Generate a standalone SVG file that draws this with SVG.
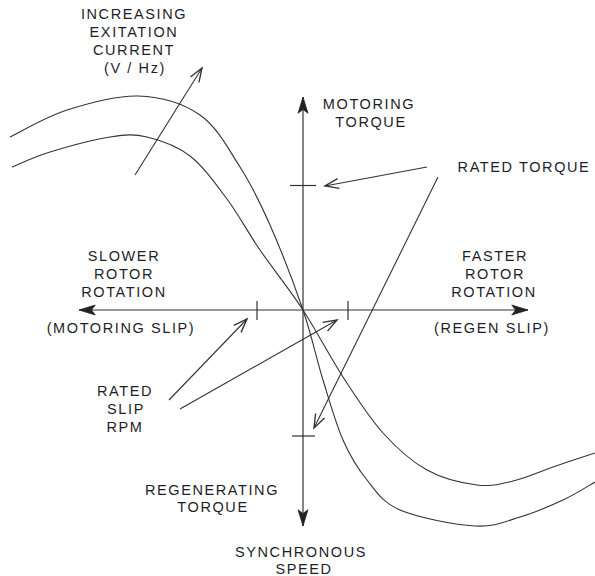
<svg xmlns="http://www.w3.org/2000/svg" width="595" height="576" viewBox="0 0 595 576">
<defs>
<style>
.t{font-family:"Liberation Sans",Arial,sans-serif;font-size:14.5px;letter-spacing:1.6px;fill:#1e1e28;text-anchor:middle}
.ln{fill:none;stroke:#333;stroke-width:1.1}
.ax{fill:none;stroke:#333;stroke-width:1.2}
.an{fill:none;stroke:#333;stroke-width:1.1}
</style>
<marker id="open" markerUnits="userSpaceOnUse" markerWidth="20" markerHeight="20" refX="0" refY="0" viewBox="-14 -7 16 14" orient="auto" overflow="visible">
<path d="M-11,-4 L0,0 L-11,4" fill="none" stroke="#333" stroke-width="1.1"/>
</marker>
<marker id="solid" markerUnits="userSpaceOnUse" markerWidth="20" markerHeight="20" refX="0" refY="0" viewBox="-14 -7 16 14" orient="auto" overflow="visible">
<path d="M0,0 L-13,-4 L-10,0 L-13,4 Z" fill="#222" stroke="#222" stroke-width="0.6"/>
</marker>
</defs>
<rect width="595" height="576" fill="#fff"/>

<g id="connectors">
<line class="ax" x1="303" y1="310" x2="303" y2="97" marker-end="url(#solid)"/>
<line class="ax" x1="303" y1="310" x2="303" y2="526" marker-end="url(#solid)"/>
<line class="ax" x1="303" y1="310" x2="79" y2="310" marker-end="url(#solid)"/>
<line class="ax" x1="303" y1="310" x2="528" y2="310" marker-end="url(#solid)"/>
<line class="ax" x1="257" y1="301" x2="257" y2="320"/>
<line class="ax" x1="348" y1="301" x2="348" y2="320"/>
<line class="ax" x1="290" y1="185.5" x2="316" y2="185.5"/>
<line class="ax" x1="292" y1="436" x2="315" y2="436"/>
<path class="ln" d="M10,137 C19.5,132.5 45.7,116.8 67,110 C88.3,103.2 115.8,95.2 138,96 C160.2,96.8 183,103.2 200,115 C217,126.8 228.3,148.7 240,167 C251.7,185.3 259.5,201.2 270,225 C280.5,248.8 294.2,284.2 303,310 C311.8,335.8 316.3,358.3 323,380 C329.7,401.7 335.7,423.3 343,440 C350.3,456.7 357.5,468.3 367,480 C376.5,491.7 382,502.3 400,510 C418,517.7 455,524.8 475,526 C495,527.2 505.3,521.3 520,517 C534.7,512.7 550.5,505.8 563,500 C575.5,494.2 589.7,485 595,482"/>
<path class="ln" d="M12,167 C18.3,164.5 33.7,157 50,152 C66.3,147 93.8,139.5 110,137 C126.2,134.5 133.7,133.8 147,137 C160.3,140.2 176.7,145.7 190,156 C203.3,166.3 215.3,183.3 227,199 C238.7,214.7 247.3,231.5 260,250 C272.7,268.5 289.2,288.8 303,310 C316.8,331.2 329.7,356.5 343,377 C356.3,397.5 369,417.5 383,433 C397,448.5 411.3,461.3 427,470 C442.7,478.7 462.7,483.2 477,485 C491.3,486.8 500.3,484 513,481 C525.7,478 539.3,471.7 553,467 C566.7,462.3 588,455.3 595,453"/>
<line class="an" x1="135" y1="175" x2="202" y2="68" marker-end="url(#open)"/>
<line class="an" x1="427" y1="167" x2="325" y2="186" marker-end="url(#open)"/>
<line class="an" x1="438" y1="177" x2="314" y2="428" marker-end="url(#open)"/>
<line class="an" x1="169" y1="400" x2="247" y2="319" marker-end="url(#open)"/>
<line class="an" x1="180" y1="409" x2="337" y2="320" marker-end="url(#open)"/>
</g>

<g id="label-excitation">
<text class="t" x="134" y="19">INCREASING</text>
<text class="t" x="134" y="37">EXITATION</text>
<text class="t" x="134" y="55">CURRENT</text>
<text class="t" x="135" y="73">(V / Hz)</text>
</g>
<g id="label-motoring-torque">
<text class="t" x="369" y="109">MOTORING</text>
<text class="t" x="371" y="127">TORQUE</text>
</g>
<g id="label-rated-torque">
<text class="t" x="524" y="172">RATED TORQUE</text>
</g>
<g id="label-faster">
<text class="t" x="495" y="261">FASTER</text>
<text class="t" x="495" y="279">ROTOR</text>
<text class="t" x="494" y="297">ROTATION</text>
<text class="t" x="492" y="333">(REGEN SLIP)</text>
</g>
<g id="label-slower">
<text class="t" x="124" y="261">SLOWER</text>
<text class="t" x="124" y="279">ROTOR</text>
<text class="t" x="124" y="297">ROTATION</text>
<text class="t" x="121" y="333">(MOTORING SLIP)</text>
</g>
<g id="label-rated-slip">
<text class="t" x="125" y="396">RATED</text>
<text class="t" x="126" y="414">SLIP</text>
<text class="t" x="125" y="432">RPM</text>
</g>
<g id="label-regen-torque">
<text class="t" x="212" y="495">REGENERATING</text>
<text class="t" x="213" y="512">TORQUE</text>
</g>
<g id="label-sync">
<text class="t" x="301" y="557">SYNCHRONOUS</text>
<text class="t" x="304" y="574">SPEED</text>
</g>
</svg>
